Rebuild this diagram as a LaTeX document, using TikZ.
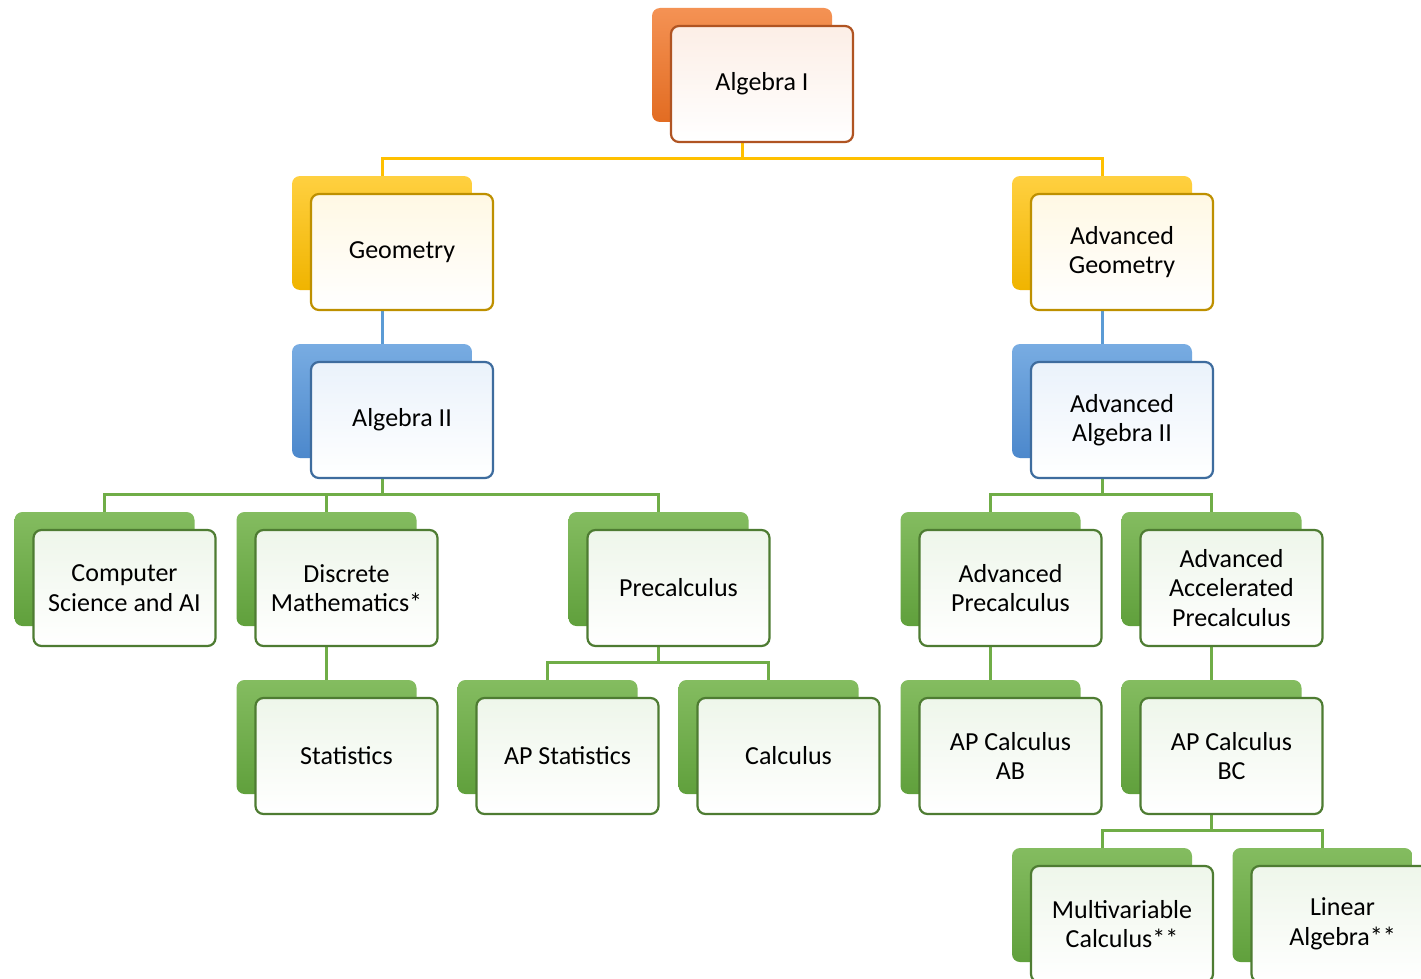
\documentclass[tikz,border=0pt]{standalone}
\usepackage{fontspec}
\setmainfont{Carlito}
\pgfdeclarelayer{paper}
\pgfdeclarelayer{bg}
\pgfsetlayers{paper,bg,main}
\definecolor{orB1}{RGB}{244,146,84}\definecolor{orB2}{RGB}{226,108,34}
\definecolor{orF}{RGB}{252,238,230}\definecolor{orD}{RGB}{176,84,34}
\definecolor{goB1}{RGB}{255,208,64}\definecolor{goB2}{RGB}{240,180,0}
\definecolor{goF}{RGB}{255,248,228}\definecolor{goD}{RGB}{190,144,0}
\definecolor{blB1}{RGB}{120,172,226}\definecolor{blB2}{RGB}{76,136,204}
\definecolor{blF}{RGB}{234,242,251}\definecolor{blD}{RGB}{62,108,158}
\definecolor{grB1}{RGB}{132,188,96}\definecolor{grB2}{RGB}{96,160,60}
\definecolor{grF}{RGB}{238,246,234}\definecolor{grD}{RGB}{78,124,50}
\definecolor{yl}{RGB}{255,192,0}\definecolor{bl}{RGB}{91,155,213}\definecolor{gl}{RGB}{112,173,71}
\tikzset{
  backbox/.style={rounded corners=8pt, minimum width=180pt, minimum height=114pt, inner sep=0pt},
  frontbox/.style={rounded corners=8pt, minimum width=182pt, minimum height=116pt, inner sep=0pt,
    line width=2.2pt, align=center, font=\fontsize{26}{29.5}\selectfont},
  orback/.style={top color=orB1, bottom color=orB2},
  orfront/.style={draw=orD, top color=orF, middle color=orF, bottom color=white},
  goback/.style={top color=goB1, bottom color=goB2},
  gofront/.style={draw=goD, top color=goF, middle color=goF, bottom color=white},
  blback/.style={top color=blB1, bottom color=blB2},
  blfront/.style={draw=blD, top color=blF, middle color=blF, bottom color=white},
  grback/.style={top color=grB1, bottom color=grB2},
  grfront/.style={draw=grD, top color=grF, middle color=grF, bottom color=white},
  conn/.style={line width=3pt},
}
\newcommand\course[5]{%
  \node[backbox,#4back] (#1b) at (#2,#3) {};
  \node[frontbox,#4front] (#1) at ([shift={(20,19)}]#1b.center) {#5};
}
\begin{document}
\begin{tikzpicture}[x=1pt,y=-1pt]
\useasboundingbox (0,0) rectangle (1421,979);
\clip (0,0) rectangle (1421,979);
\begin{pgfonlayer}{paper}
\fill[white] (0,0) rectangle (1421,979);
\end{pgfonlayer}
\course{alg1}{742}{65}{or}{Algebra I}
\course{geo}{382}{233}{go}{Geometry}
\course{ageo}{1102}{233}{go}{Advanced\\Geometry}
\course{alg2}{382}{401}{bl}{Algebra II}
\course{aalg2}{1102}{401}{bl}{Advanced\\Algebra II}
\course{cs}{104.5}{569}{gr}{Computer\\Science and AI}
\course{dm}{326.5}{569}{gr}{Discrete\\Mathematics*}
\course{pre}{658.5}{569}{gr}{Precalculus}
\course{apre}{990.5}{569}{gr}{Advanced\\Precalculus}
\course{aap}{1211.5}{569}{gr}{Advanced\\Accelerated\\Precalculus}
\course{stat}{326.5}{737}{gr}{Statistics}
\course{apstat}{547.5}{737}{gr}{AP Statistics}
\course{calc}{768.5}{737}{gr}{Calculus}
\course{ab}{990.5}{737}{gr}{AP Calculus\\AB}
\course{bc}{1211.5}{737}{gr}{AP Calculus\\BC}
\course{mv}{1102}{905}{gr}{Multivariable\\Calculus**}
\course{la}{1322.5}{905}{gr}{Linear\\Algebra**}
\begin{pgfonlayer}{bg}
\draw[conn,yl] (geob.north) -- ++(0,-17) -| (alg1b.south);
\draw[conn,yl] (ageob.north) -- ++(0,-17) -| (alg1b.south);
\draw[conn,bl] (geob.south) -- (alg2b.north);
\draw[conn,bl] (ageob.south) -- (aalg2b.north);
\draw[conn,gl] (csb.north) -- ++(0,-17) -| (alg2b.south);
\draw[conn,gl] (dmb.north) -- ++(0,-17) -| (alg2b.south);
\draw[conn,gl] (preb.north) -- ++(0,-17) -| (alg2b.south);
\draw[conn,gl] (statb.north) -- (dmb.south);
\draw[conn,gl] (apstatb.north) -- ++(0,-17) -| (preb.south);
\draw[conn,gl] (calcb.north) -- ++(0,-17) -| (preb.south);
\draw[conn,gl] (apreb.north) -- ++(0,-17) -| (aalg2b.south);
\draw[conn,gl] (aapb.north) -- ++(0,-17) -| (aalg2b.south);
\draw[conn,gl] (abb.north) -- (apreb.south);
\draw[conn,gl] (bcb.north) -- (aapb.south);
\draw[conn,gl] (mvb.north) -- ++(0,-17) -| (bcb.south);
\draw[conn,gl] (lab.north) -- ++(0,-17) -| (bcb.south);
\end{pgfonlayer}
\end{tikzpicture}
\end{document}
